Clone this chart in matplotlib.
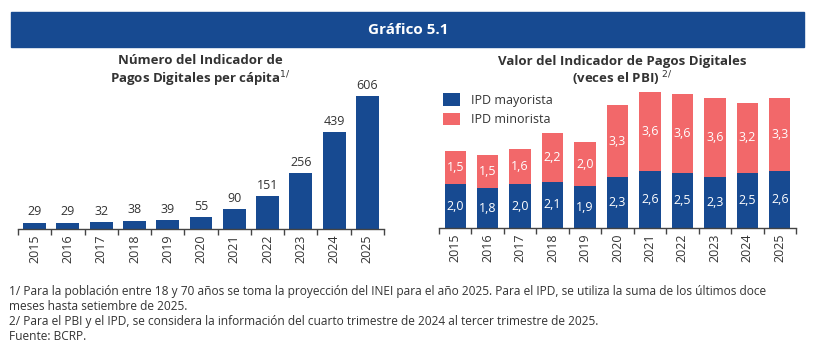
import matplotlib
matplotlib.use("Agg")
import matplotlib.pyplot as plt
from matplotlib.patches import Rectangle

years = ["2015", "2016", "2017", "2018", "2019", "2020", "2021", "2022", "2023", "2024", "2025"]
ipd_per_capita = [29, 29, 32, 38, 39, 55, 90, 151, 256, 439, 606]
ipd_mayorista = [2.0, 1.8, 2.0, 2.1, 1.9, 2.3, 2.6, 2.5, 2.3, 2.5, 2.6]
ipd_minorista = [1.5, 1.5, 1.6, 2.2, 2.0, 3.3, 3.6, 3.6, 3.6, 3.2, 3.3]

BLUE = "#174A91"
RED = "#F2686A"
DARK = "#333333"

plt.rcParams['font.family'] = ['Open Sans', 'DejaVu Sans']

W, H = 819, 355
fig = plt.figure(figsize=(W / 100, H / 100), dpi=100)

def fx(px):
    return px / W

def fy(py):
    return 1 - py / H

# banner
fig.patches.append(Rectangle((fx(11), fy(47)), fx(804) - fx(11), (47 - 12) / H,
                             transform=fig.transFigure, color=BLUE, zorder=0))
fig.text(fx(408), fy(29.5), "Gráfico 5.1", color="white", fontsize=11,
         fontweight="bold", ha="center", va="center")

# left chart
axL = fig.add_axes([fx(18), fy(229), fx(384) - fx(18), (229 - 75) / H])
x = list(range(len(years)))
axL.bar(x, ipd_per_capita, width=0.69, color=BLUE)
axL.set_xlim(-0.5, len(years) - 0.5)
axL.set_ylim(0, 700)
for xi, v in zip(x, ipd_per_capita):
    axL.annotate(str(v), (xi, v), xytext=(0, 3), textcoords="offset points",
                 ha="center", va="bottom", fontsize=9, color=DARK)

# right chart
axR = fig.add_axes([fx(439), fy(228), fx(796) - fx(439), (228 - 74) / H])
axR.bar(x, ipd_mayorista, width=0.66, color=BLUE, label="IPD mayorista")
axR.bar(x, ipd_minorista, width=0.66, bottom=ipd_mayorista, color=RED, label="IPD minorista")
axR.set_xlim(-0.5, len(years) - 0.5)
axR.set_ylim(0, 7)
for xi, a, b in zip(x, ipd_mayorista, ipd_minorista):
    axR.text(xi, a / 2, f"{a:.1f}".replace(".", ","), ha="center", va="center",
             fontsize=9, color="white")
    axR.text(xi, a + b / 2, f"{b:.1f}".replace(".", ","), ha="center", va="center",
             fontsize=9, color="white")
axR.legend(loc="upper left", bbox_to_anchor=(0.01, 0.875), frameon=False, fontsize=9,
           borderpad=0, borderaxespad=0,
           handlelength=1.4, handleheight=1.2, labelspacing=0.45, handletextpad=0.9,
           labelcolor=DARK)

for ax in (axL, axR):
    for s in ("top", "right", "left"):
        ax.spines[s].set_visible(False)
    ax.spines["bottom"].set_color("#444444")
    ax.spines["bottom"].set_linewidth(1.0)
    ax.set_yticks([])
    ax.set_xticks([i - 0.5 for i in range(len(years) + 1)])
    ax.set_xticklabels([])
    ax.tick_params(axis="x", length=4, color="#444444", width=1.0)
    ax.set_xticks(x, minor=True)
    ax.set_xticklabels(years, minor=True, rotation=90, fontsize=9, color=DARK)
    ax.tick_params(axis="x", which="minor", length=0, pad=4)

# titles
fig.text(fx(200), fy(61), "Número del Indicador de", ha="center", va="center",
         fontsize=9.5, fontweight="bold", color=DARK)
fig.text(fx(200), fy(79), "Pagos Digitales per cápita$^{1/}$", ha="center", va="center",
         fontsize=9.5, fontweight="bold", color=DARK)
fig.text(fx(622), fy(61), "Valor del Indicador de Pagos Digitales", ha="center", va="center",
         fontsize=9.5, fontweight="bold", color=DARK)
fig.text(fx(622), fy(79), "(veces el PBI) $^{2/}$", ha="center", va="center",
         fontsize=9.5, fontweight="bold", color=DARK)

# footnotes
notes = [
    "1/ Para la población entre 18 y 70 años se toma la proyección del INEI para el año 2025. Para el IPD, se utiliza la suma de los últimos doce",
    "meses hasta setiembre de 2025.",
    "2/ Para el PBI y el IPD, se considera la información del cuarto trimestre de 2024 al tercer trimestre de 2025.",
    "Fuente: BCRP.",
]
for i, n in enumerate(notes):
    fig.text(fx(9), fy(291 + i * 15.3), n, ha="left", va="center", fontsize=8.6,
             color=DARK)

fig.savefig("out.png", dpi=100)
